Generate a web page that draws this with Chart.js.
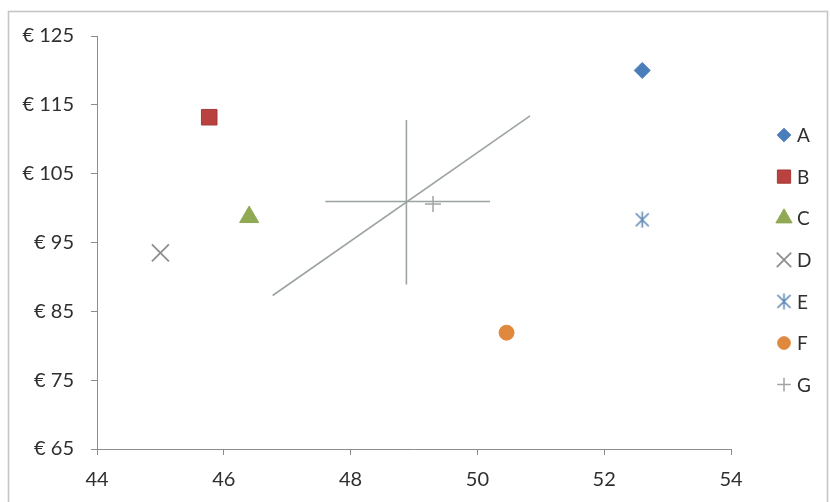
<!DOCTYPE html>
<html>
<head>
<meta charset="utf-8">
<script src="https://cdn.jsdelivr.net/npm/chart.js@4/dist/chart.umd.min.js"></script>
<style>
  html, body { margin: 0; padding: 0; background: #ffffff; }
  #wrap { width: 830px; height: 502px; }
</style>
</head>
<body>
<div id="wrap"><canvas id="chart" width="830" height="502"></canvas></div>
<script>
// Points: one product per series
const labels  = ['A', 'B', 'C', 'D', 'E', 'F', 'G'];
const xValues = [52.6, 45.77, 46.4, 45.0, 52.6, 50.46, 49.3];
const yValues = [120.0, 113.2, 98.7, 93.5, 98.3, 81.9, 100.6];

// Average cross and trend line
const trendX = [46.77, 50.83];
const trendY = [87.3, 113.4];
const vBarX  = [48.88, 48.88];
const vBarY  = [88.9, 112.8];
const hBarX  = [47.6, 50.2];
const hBarY  = [100.95, 100.95];

// Axis ticks
const xTicks = [44, 46, 48, 50, 52, 54];
const yTicks = [65, 75, 85, 95, 105, 115, 125];

const FONT = 'Lato, "Open Sans", sans-serif';
const TEXT = '#2f2f2f';
const AXIS = '#8c8c8c';
const LINE = '#9ba4a1';

// Asterisk marker: an X crossed by a vertical stroke
function starMarker(size, color) {
  const c = document.createElement('canvas');
  c.width = size; c.height = size;
  const g = c.getContext('2d');
  g.strokeStyle = color;
  g.lineWidth = 1.6;
  const m = 2, s = size - 2;
  g.beginPath();
  g.moveTo(m, m); g.lineTo(s, s);
  g.moveTo(s, m); g.lineTo(m, s);
  g.moveTo(size / 2, 0.5); g.lineTo(size / 2, size - 0.5);
  g.stroke();
  return c;
}

const styles = [
  { pointStyle: 'rectRot',  radius: 8,   bg: '#4a7ebb', bc: '#4a7ebb', bw: 1 },
  { pointStyle: 'rect',     radius: 11,  bg: '#b9413f', bc: '#a33a38', bw: 1 },
  { pointStyle: 'triangle', radius: 11,  bg: '#8fa954', bc: '#8fa954', bw: 1 },
  { pointStyle: 'crossRot', radius: 12,  bg: 'rgba(0,0,0,0)', bc: '#8e8e8e', bw: 1.8 },
  { pointStyle: starMarker(17, '#5f89b4'), radius: 8, bg: '#5f89b4', bc: '#5f89b4', bw: 1 },
  { pointStyle: 'circle',   radius: 7.5, bg: '#e0893e', bc: '#e0893e', bw: 1 },
  { pointStyle: 'cross',    radius: 8,   bg: 'rgba(0,0,0,0)', bc: '#a3a3a3', bw: 1.5 }
];

const pointSets = labels.map((name, i) => ({
  label: name,
  data: [{ x: xValues[i], y: yValues[i] }],
  pointStyle: styles[i].pointStyle,
  pointRadius: styles[i].radius,
  pointBackgroundColor: styles[i].bg,
  pointBorderColor: styles[i].bc,
  pointBorderWidth: styles[i].bw,
  showLine: false,
  order: 1
}));

function segment(xs, ys) {
  return {
    label: '',
    data: xs.map((x, i) => ({ x, y: ys[i] })),
    showLine: true,
    borderColor: LINE,
    borderWidth: 1.6,
    pointRadius: 0,
    fill: false,
    order: 2,
    isGuide: true
  };
}

// Frame around the whole chart
const framePlugin = {
  id: 'frame',
  beforeDraw(chart) {
    const ctx = chart.ctx;
    ctx.save();
    ctx.strokeStyle = '#c6c6c6';
    ctx.lineWidth = 1.6;
    ctx.strokeRect(8.5, 11.5, 819, 500);
    ctx.restore();
  }
};

// Vertical legend at the right side
const sideLegend = {
  id: 'sideLegend',
  afterDraw(chart) {
    const ctx = chart.ctx;
    const items = chart.data.datasets.filter(d => !d.isGuide);
    const mx = 784, tx = 797, y0 = 135, step = 41.6;
    ctx.save();
    items.forEach((d, i) => {
      const y = y0 + i * step;
      ctx.fillStyle = d.pointBackgroundColor;
      ctx.strokeStyle = d.pointBorderColor;
      ctx.lineWidth = d.pointBorderWidth;
      Chart.helpers.drawPoint(ctx, {
        pointStyle: d.pointStyle,
        radius: d.pointRadius * 0.85,
        rotation: 0,
        borderWidth: d.pointBorderWidth
      }, mx, y);
      ctx.fillStyle = TEXT;
      ctx.font = '19px ' + FONT;
      ctx.textAlign = 'left';
      ctx.textBaseline = 'middle';
      ctx.fillText(d.label, tx, y + 1);
    });
    ctx.restore();
  }
};

new Chart(document.getElementById('chart'), {
  type: 'scatter',
  data: {
    datasets: [
      ...pointSets,
      segment(trendX, trendY),
      segment(vBarX, vBarY),
      segment(hBarX, hBarY)
    ]
  },
  options: {
    responsive: false,
    animation: false,
    devicePixelRatio: 1,
    layout: { padding: { top: 36, right: 99, bottom: 0, left: 0 } },
    plugins: {
      legend: { display: false },
      tooltip: { enabled: false }
    },
    scales: {
      x: {
        type: 'linear',
        min: xTicks[0],
        max: xTicks[xTicks.length - 1],
        afterBuildTicks(scale) { scale.ticks = xTicks.map(v => ({ value: v })); },
        afterFit(scale) { scale.height = 53; },
        grid: { drawOnChartArea: false, tickLength: 6, color: AXIS, lineWidth: 1 },
        border: { color: AXIS, width: 1 },
        ticks: { color: TEXT, font: { family: FONT, size: 20 }, padding: 13, maxRotation: 0 }
      },
      y: {
        type: 'linear',
        min: yTicks[0],
        max: yTicks[yTicks.length - 1],
        afterBuildTicks(scale) { scale.ticks = yTicks.map(v => ({ value: v })); },
        afterFit(scale) { scale.width = 97; },
        grid: { drawOnChartArea: false, tickLength: 6, color: AXIS, lineWidth: 1 },
        border: { color: AXIS, width: 1 },
        ticks: {
          color: TEXT,
          font: { family: FONT, size: 20 },
          padding: 17,
          callback: v => '€ ' + v
        }
      }
    }
  },
  plugins: [framePlugin, sideLegend]
});
</script>
</body>
</html>
